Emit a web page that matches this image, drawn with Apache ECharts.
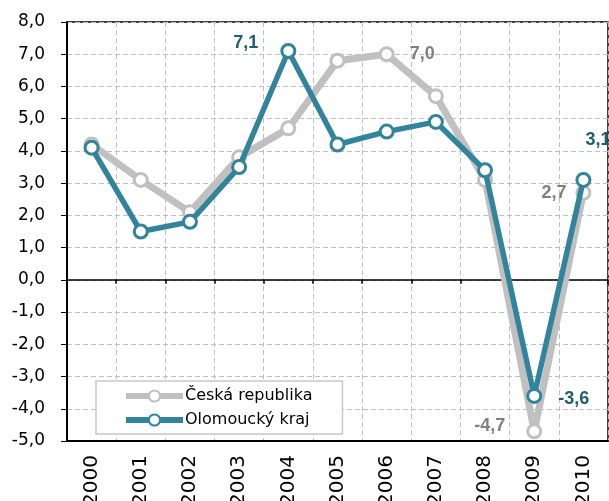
<!DOCTYPE html>
<html>
<head>
<meta charset="utf-8">
<script src="https://cdn.jsdelivr.net/npm/echarts@6/dist/echarts.min.js"></script>
<style>
  html, body { margin: 0; padding: 0; background: #fff; }
  #chart { width: 609px; height: 501px; }
</style>
</head>
<body>
<div id="chart"></div>
<script>
const years = ['2000', '2001', '2002', '2003', '2004', '2005', '2006', '2007', '2008', '2009', '2010']
const cr = [4.2, 3.1, 2.1, 3.8, 4.7, 6.8, 7.0, 5.7, 3.1, -4.7, 2.7]
const olomouc = [4.1, 1.5, 1.8, 3.5, 7.1, 4.2, 4.6, 4.9, 3.4, -3.6, 3.1]

// which points get a value label, and where
const crLabels = {
  6: { position: 'right', distance: 15 },
  9: { position: 'left', distance: 21, offset: [0, -5] },
  10: { position: 'left', distance: 9 }
}
const olLabels = {
  4: { position: 'left', distance: 22, offset: [0, -8] },
  9: { position: 'right', distance: 16, offset: [0, 3] },
  10: { position: 'right', distance: -6, offset: [0, -40] }
}

const fmt = v => v.toFixed(1).replace('.', ',')
const font = '"DejaVu Sans", Verdana, sans-serif'
const boldFont = '"Liberation Sans", Arial, sans-serif'

function withLabels(values, labels, color) {
  return values.map((v, i) => {
    const l = labels[i]
    if (!l) return v
    return { value: v, label: Object.assign({ show: true, color, fontWeight: 'bold', fontSize: 18, fontFamily: boldFont, formatter: p => fmt(p.value) }, l) }
  })
}

const c = echarts.init(document.getElementById('chart'))
c.setOption({
  animation: false,
  grid: {
    left: 67, right: 1, top: 22, bottom: 60, outerBoundsMode: 'none', containLabel: false,
    show: true, borderColor: '#000', borderWidth: 1.5, backgroundColor: '#fff'
  },
  legend: {
    left: 96, top: 381, orient: 'vertical',
    padding: [7, 30, 6, 27], itemGap: 8, itemWidth: 57, itemHeight: 14,
    borderColor: '#c8c8c8', borderWidth: 1.5, backgroundColor: '#fff',
    lineStyle: { width: 6 },
    textStyle: { fontSize: 16, fontFamily: font, color: '#000', padding: [0, 0, 0, -3] },
    data: ['Česká republika', 'Olomoucký kraj']
  },
  xAxis: [
    {
      type: 'category', data: years, position: 'bottom',
      axisLine: { onZero: false, lineStyle: { color: '#000', width: 2 } },
      axisTick: { show: false },
      axisLabel: { rotate: 90, margin: 14, fontSize: 20, fontFamily: font, color: '#000' },
      splitLine: { show: true, lineStyle: { color: '#c0c0c0', type: [5, 3], width: 1 } }
    },
    {
      type: 'category', data: years, position: 'top',
      axisLine: { onZero: true, lineStyle: { color: '#000', width: 1.5 } },
      axisTick: { show: true, inside: true, length: 4, lineStyle: { color: '#000', width: 1.5 } },
      axisLabel: { show: false },
      splitLine: { show: false }
    }
  ],
  yAxis: {
    type: 'value', min: -5, max: 8, interval: 1,
    axisLine: { show: true, lineStyle: { color: '#000', width: 2 } },
    axisTick: { show: true, length: 6, lineStyle: { color: '#000' } },
    axisLabel: { margin: 22, fontSize: 17, fontFamily: font, color: '#000', formatter: fmt },
    splitLine: { lineStyle: { color: '#c0c0c0', type: [5, 3], width: 1 } }
  },
  series: [
    {
      name: 'Česká republika', type: 'line', xAxisIndex: 0,
      data: withLabels(cr, crLabels, '#808080'),
      symbol: 'circle', symbolSize: 13,
      lineStyle: { width: 7, color: '#c0c0c0' },
      itemStyle: { color: '#fff', borderColor: '#c0c0c0', borderWidth: 3 },
      z: 3
    },
    {
      name: 'Olomoucký kraj', type: 'line', xAxisIndex: 0,
      data: withLabels(olomouc, olLabels, '#215e6e'),
      symbol: 'circle', symbolSize: 13,
      lineStyle: { width: 5.5, color: '#31849b' },
      itemStyle: { color: '#fff', borderColor: '#31849b', borderWidth: 3 },
      z: 4
    }
  ]
})
</script>
</body>
</html>
